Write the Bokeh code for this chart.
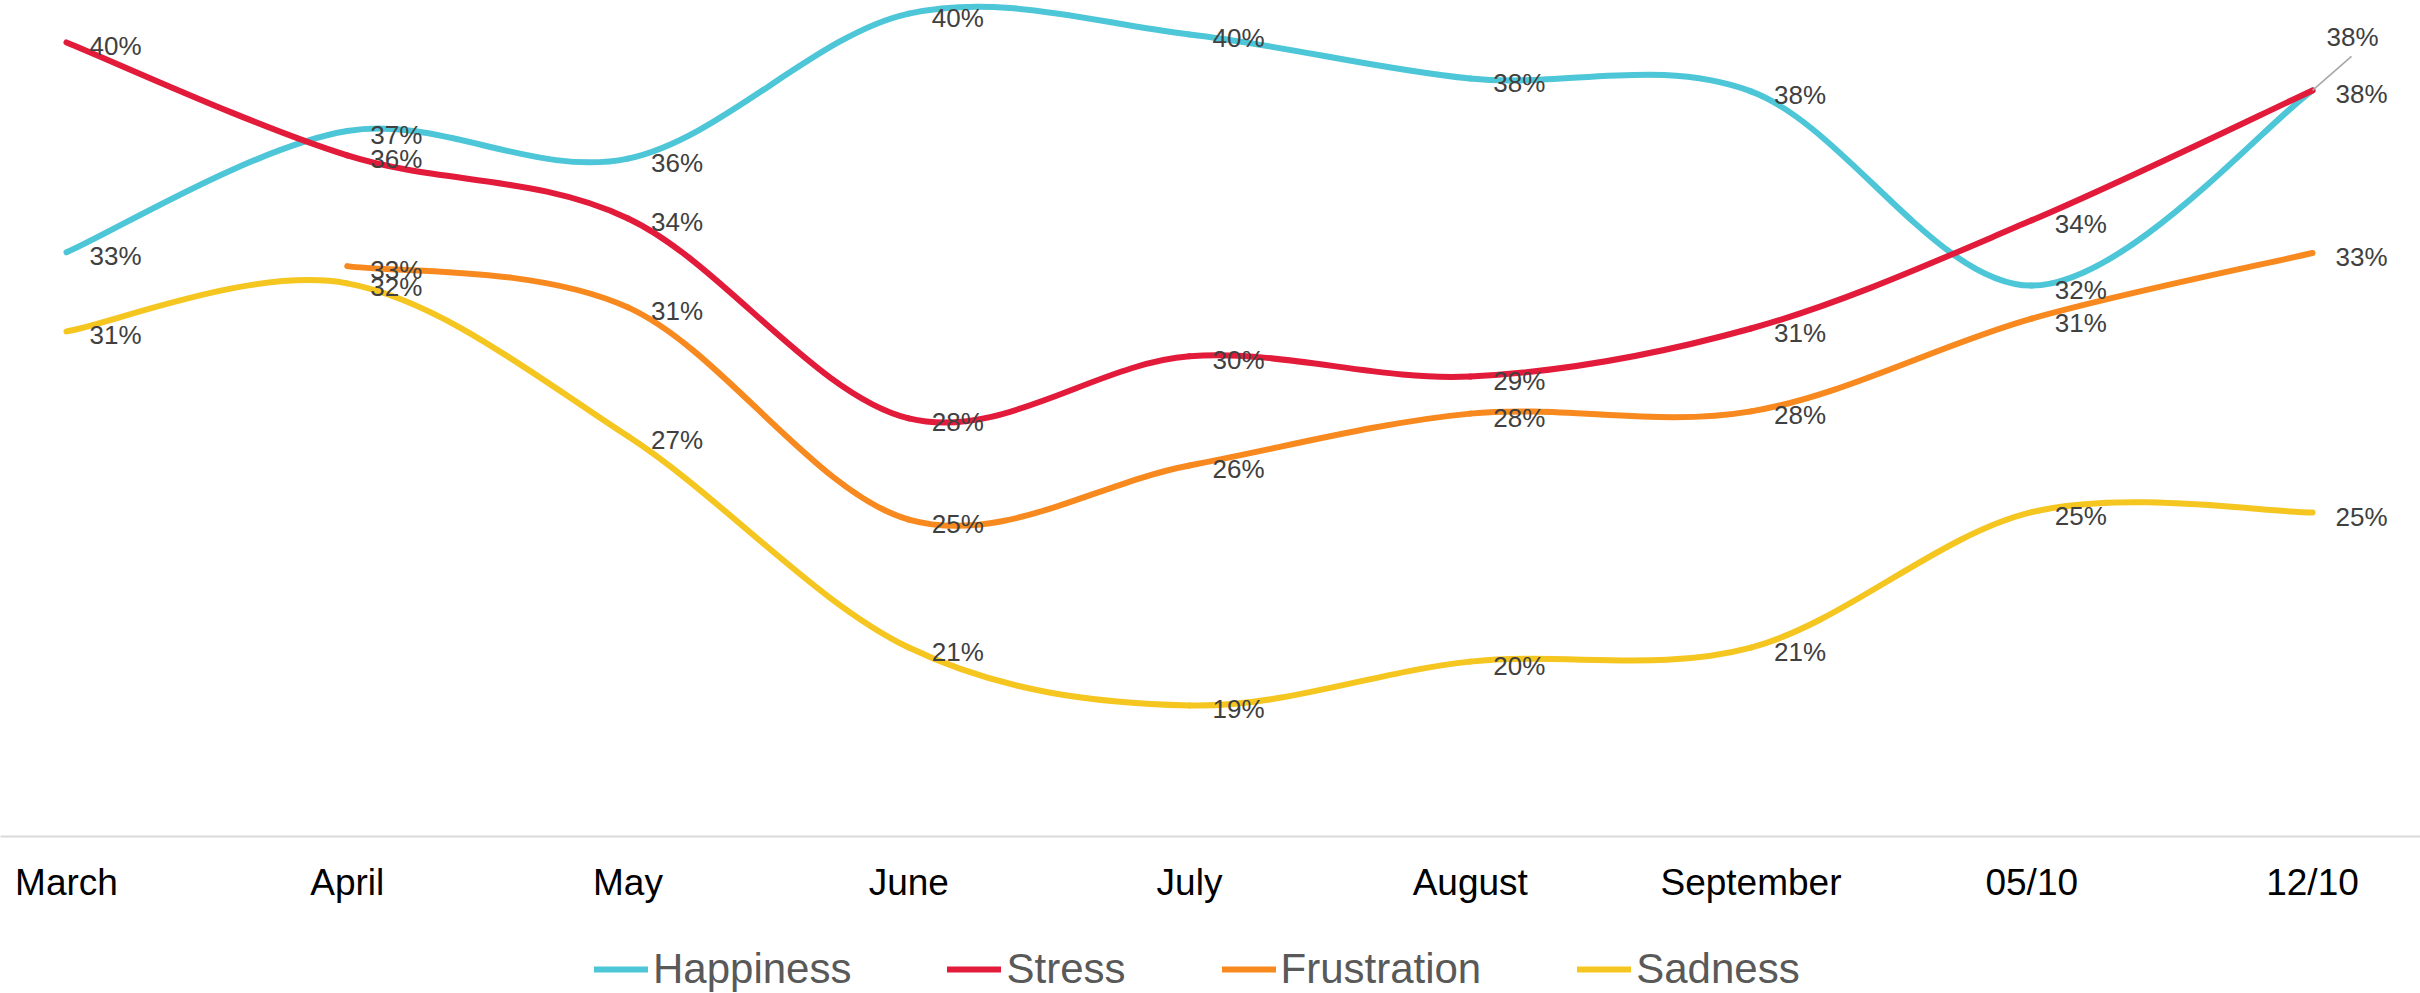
from bokeh.plotting import figure
from bokeh.layouts import column
from bokeh.models import (Range1d, FixedTicker, Legend, LegendItem, ColumnDataSource)
from bokeh.core.properties import value
from bokeh.embed import file_html
from bokeh.resources import INLINE

# ---------------- data ----------------
categories = ["March", "April", "May", "June", "July", "August", "September", "05/10", "12/10"]
happiness = [32.99, 36.78, 35.92, 40.45, 39.80, 38.42, 38.02, 31.95, 38.05]
stress = [39.55, 36.02, 34.05, 27.80, 29.74, 29.11, 30.61, 33.99, 38.05]
frustration = [None, 32.56, 31.27, 24.64, 26.33, 27.95, 28.02, 30.92, 32.97]
sadness = [30.52, 32.02, 27.24, 20.64, 18.83, 20.20, 20.64, 24.87, 24.86]

series_names = ["Happiness", "Stress", "Frustration", "Sadness"]
series_values = [happiness, stress, frustration, sadness]
series_colors = ["#4DC6D8", "#E31B3B", "#F7891F", "#F5C520"]

# ---------------- layout ----------------
W = 2420
FRAME_H = 836
BOTTOM = 100           # room for the category axis
LEG_H = 57             # strip holding the legend
PX_X = 280.75          # pixels per category step
PX_Y = 32.0            # pixels per percentage point
x_start = -66 / PX_X
x_end = (W - 66) / PX_X
y_end = 40.86
y_start = y_end - FRAME_H / PX_Y

FONT = "Liberation Sans"

p = figure(width=W, height=FRAME_H + BOTTOM, output_backend="svg", toolbar_location=None,
           x_range=Range1d(x_start, x_end), y_range=Range1d(y_start, y_end),
           y_axis_location=None, min_border_left=0, min_border_right=0,
           min_border_top=0, min_border_bottom=BOTTOM)
p.outline_line_color = None
p.xgrid.visible = False
p.ygrid.visible = False
p.background_fill_color = "white"
p.border_fill_color = "white"

xa = p.xaxis[0]
xa.ticker = FixedTicker(ticks=list(range(len(categories))))
xa.major_label_overrides = {i: c for i, c in enumerate(categories)}
xa.axis_line_color = "#D9D9D9"
xa.axis_line_width = 2
xa.major_tick_line_color = None
xa.minor_tick_line_color = None
xa.major_label_text_font = FONT
xa.major_label_text_font_size = "37px"
xa.major_label_text_color = "#000000"
xa.major_label_standoff = 19


def bezier_parts(vals):
    pts = [(float(i), v) for i, v in enumerate(vals) if v is not None]
    n = len(pts)
    out = {k: [] for k in ("x0", "y0", "x1", "y1", "cx0", "cy0", "cx1", "cy1")}
    for i in range(n - 1):
        p0 = pts[i - 1] if i > 0 else pts[i]
        p1 = pts[i]
        p2 = pts[i + 1]
        p3 = pts[i + 2] if i + 2 < n else pts[i + 1]
        out["x0"].append(p1[0]); out["y0"].append(p1[1])
        out["x1"].append(p2[0]); out["y1"].append(p2[1])
        out["cx0"].append(p1[0] + (p2[0] - p0[0]) / 6)
        out["cy0"].append(p1[1] + (p2[1] - p0[1]) / 6)
        out["cx1"].append(p2[0] - (p3[0] - p1[0]) / 6)
        out["cy1"].append(p2[1] - (p3[1] - p1[1]) / 6)
    return out


BEZ = dict(x0="x0", y0="y0", x1="x1", y1="y1", cx0="cx0", cy0="cy0", cx1="cx1", cy1="cy1")
sources = []
for name, vals, col in zip(series_names, series_values, series_colors):
    src = ColumnDataSource(bezier_parts(vals))
    sources.append(src)
    p.bezier(source=src, line_color=col, line_width=6, line_cap="round", **BEZ)

# data labels
for name, vals in zip(series_names, series_values):
    xs, ys, txt, xo, yo = [], [], [], [], []
    for i, v in enumerate(vals):
        if v is None:
            continue
        xs.append(i); ys.append(v); txt.append(f"{round(v):.0f}%")
        if name == "Happiness" and i == len(vals) - 1:
            xo.append(14); yo.append(-53)
        else:
            xo.append(23); yo.append(4)
    lsrc = ColumnDataSource(dict(x=xs, y=ys, text=txt, xo=xo, yo=yo))
    p.text(x="x", y="y", text="text", x_offset="xo", y_offset="yo", source=lsrc,
           text_font=value(FONT), text_font_size="26px", text_color="#404040",
           text_align="left", text_baseline="middle")

# leader line for the moved label
last = len(happiness) - 1
p.segment(x0=[last], y0=[happiness[last]],
          x1=[last + 39 / PX_X], y1=[happiness[last] + 34 / PX_Y],
          line_color="#A6A6A6", line_width=1.5)

# ---------------- legend strip ----------------
# same series drawn again (scrolled out of view) so the legend has real renderers
pl = figure(width=W, height=LEG_H, output_backend="svg", toolbar_location=None,
            x_range=Range1d(0, 1), y_range=Range1d(-2, -1),
            x_axis_location=None, y_axis_location=None,
            min_border_left=0, min_border_right=0, min_border_top=0, min_border_bottom=0)
pl.outline_line_color = None
pl.xgrid.visible = False
pl.ygrid.visible = False
items = []
for name, col, src in zip(series_names, series_colors, sources):
    r = pl.bezier(source=src, line_color=col, line_width=6, line_cap="round", **BEZ)
    items.append(LegendItem(label=name, renderers=[r]))

legend = Legend(items=items, location=(594, 0), orientation="horizontal",
                label_text_font=FONT, label_text_font_size="42px",
                label_text_color="#595959", glyph_width=54, glyph_height=20,
                label_standoff=5, spacing=96, padding=0, margin=0,
                border_line_color=None, background_fill_alpha=0)
pl.add_layout(legend)

layout = column(p, pl, spacing=0)
open("out.html", "w").write(file_html(layout, INLINE))
